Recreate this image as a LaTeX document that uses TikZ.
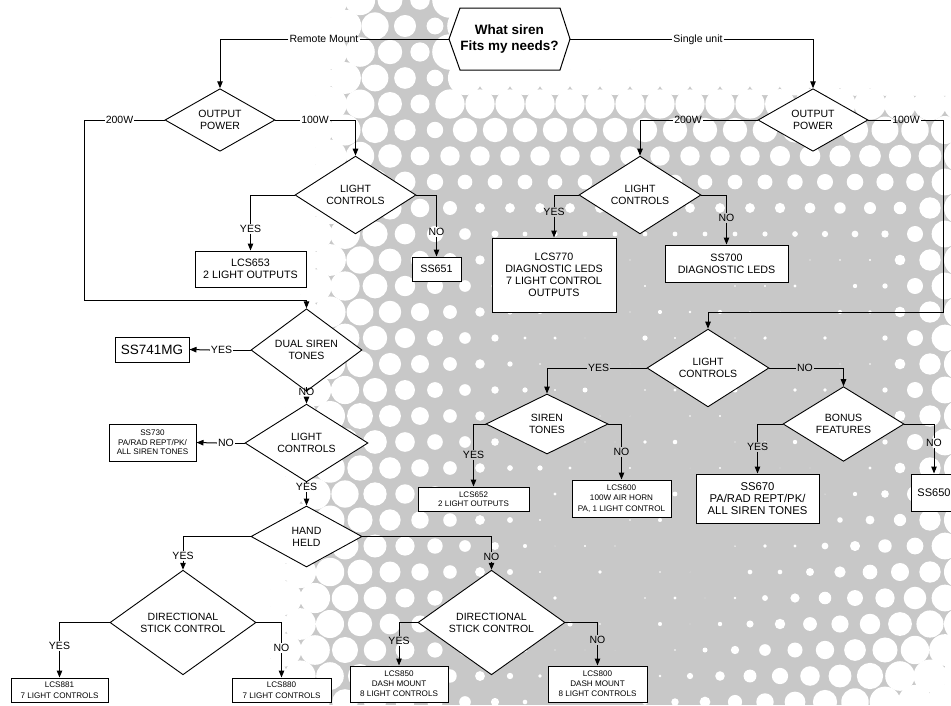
\documentclass[tikz,border=0pt]{standalone}
\usepackage{fontspec}
\setmainfont{Liberation Sans}
\usetikzlibrary{shapes.geometric,arrows.meta}
\definecolor{bggray}{RGB}{200,200,200}
\begin{document}
\begin{tikzpicture}[x=1pt,y=-1pt,
  conn/.style={line width=1pt},
  arr/.style={line width=1pt,-{Triangle[length=7pt,width=5.5pt]}},
  dia/.style={shape=diamond,draw,fill=white,line width=0.9pt,inner sep=0pt,align=center,
    font=\fontsize{10.5}{12}\selectfont},
  boxn/.style={draw,fill=white,line width=1pt,inner sep=0pt,align=center},
  fA/.style={font=\fontsize{10.7}{12.2}\selectfont},
  fS/.style={font=\fontsize{8.1}{10}\selectfont},
  fM/.style={font=\fontsize{11.3}{12.3}\selectfont},
  lbl/.style={inner sep=1pt,font=\fontsize{10.5}{12}\selectfont,text height=7.5pt,text depth=0pt}]
\useasboundingbox (0,0) rectangle (951,705);
% ---------- halftone background ----------
\pgfmathsetseed{7}
\begin{scope}
\clip (0,0) rectangle (951,705);
\fill[bggray] (0,0) rectangle (951,705);
\foreach \j in {-1,...,28}{
  \foreach \i in {-1,...,32}{
    \pgfmathsetmacro\px{(\i)*30+mod((\j)+2,2)*15}
    \pgfmathsetmacro\py{(\j)*26}
    \pgfmathsetmacro\rn{rnd}
    \pgfmathsetmacro\wv{max(1-((\px)-330+0.1*(\py))/(200+0.15*(\py)), ((\px)>440)*(1-((\py)-70-0.1*max(0,(\px)-750))/190), ((\px)+(\py)-1310)/320, ((\px)-870)/100, 0.16*(\rn)*(\rn))}
    \pgfmathsetmacro\rr{17.8*min(1,\wv)}
    \fill[white] (\px,\py) circle[radius=\rr];
  }
}
\end{scope}
% ---------- start ----------
\draw[fill=white,line width=1pt] (449,39) -- (460,8) -- (560,8) -- (570,39) -- (560,70) -- (460,70) -- cycle;
\node[minimum width=121pt,minimum height=62pt,inner sep=0pt,align=center,
  font=\fontsize{13.5}{15.3}\selectfont\bfseries] (q) at (509.5,39) {What siren\\Fits my needs?};
% ---------- left branch ----------
\node[dia,minimum width=110pt,minimum height=60pt] (op1) at (220,120) {OUTPUT\\POWER};
\node[dia,minimum width=121pt,minimum height=60pt] (lc1) at (355.5,195) {LIGHT\\CONTROLS};
\node[boxn,fA,minimum width=111pt,minimum height=36pt] (b653) at (250.5,269) {LCS653\\2 LIGHT OUTPUTS};
\node[boxn,fA,minimum width=49pt,minimum height=24pt] (b651) at (436.5,269) {SS651};
\node[dia,minimum width=111pt,minimum height=60pt] (dst) at (306.5,350) {DUAL SIREN\\TONES};
\node[boxn,minimum width=74pt,minimum height=25pt,font=\fontsize{13.5}{15}\selectfont] (b741) at (152,349.5) {SS741MG};
\node[dia,minimum width=123pt,minimum height=60pt] (lc2) at (306.5,443) {LIGHT\\CONTROLS};
\node[boxn,minimum width=87pt,minimum height=37pt,font=\fontsize{8.1}{9.7}\selectfont] (b730) at (152.5,442.5) {SS730\\PA/RAD REPT/PK/\\ALL SIREN TONES};
\node[dia,minimum width=111pt,minimum height=61pt] (hh) at (306.5,536.5) {HAND\\HELD};
\node[dia,minimum width=146pt,minimum height=61pt] (dsc1) at (183,622.5) {DIRECTIONAL\\STICK CONTROL};
\node[dia,minimum width=147pt,minimum height=61pt] (dsc2) at (491.5,622.5) {DIRECTIONAL\\STICK CONTROL};
\node[boxn,minimum width=97pt,minimum height=24pt,font=\fontsize{8.1}{10.5}\selectfont] (b881) at (59.5,690) {LCS881\\7 LIGHT CONTROLS};
\node[boxn,minimum width=99pt,minimum height=24pt,font=\fontsize{8.1}{10.5}\selectfont] (b880) at (281.5,690) {LCS880\\7 LIGHT CONTROLS};
\node[boxn,fS,minimum width=98pt,minimum height=36pt] (b850) at (399,684) {LCS850\\DASH MOUNT\\8 LIGHT CONTROLS};
\node[boxn,fS,minimum width=99pt,minimum height=36pt] (b800) at (597.5,684) {LCS800\\DASH MOUNT\\8 LIGHT CONTROLS};
% ---------- right branch ----------
\node[dia,minimum width=110pt,minimum height=60pt] (op2) at (813,120) {OUTPUT\\POWER};
\node[dia,minimum width=122pt,minimum height=60pt] (lc3) at (640,195) {LIGHT\\CONTROLS};
\node[boxn,fA,minimum width=124pt,minimum height=74pt] (b770) at (554,275) {LCS770\\DIAGNOSTIC LEDS\\7 LIGHT CONTROL\\OUTPUTS};
\node[boxn,fA,minimum width=123pt,minimum height=37pt] (b700) at (726.5,263.5) {SS700\\DIAGNOSTIC LEDS};
\node[dia,minimum width=122pt,minimum height=60pt] (lc4) at (708,368) {LIGHT\\CONTROLS};
\node[dia,minimum width=122pt,minimum height=60pt] (st) at (547,424) {SIREN\\TONES};
\node[dia,minimum width=121pt,minimum height=60pt] (bf) at (843.5,424) {BONUS\\FEATURES};
\node[boxn,minimum width=111pt,minimum height=24pt,font=\fontsize{8}{9.5}\selectfont] (b652) at (473.5,499) {LCS652\\2 LIGHT OUTPUTS};
\node[boxn,minimum width=99pt,minimum height=37pt,font=\fontsize{8.1}{10.8}\selectfont] (b600) at (621.5,498.5) {LCS600\\100W AIR HORN\\PA, 1 LIGHT CONTROL};
\node[boxn,fM,minimum width=123pt,minimum height=49pt] (b670) at (757.5,498.5) {SS670\\PA/RAD REPT/PK/\\ALL SIREN TONES};
\node[boxn,minimum width=46pt,minimum height=37pt,font=\fontsize{11}{12}\selectfont] (b650) at (934,492.5) {SS650};
% ---------- labels ----------
\node[lbl] (lRM) at (324,39) {Remote Mount};
\node[lbl] (lSU) at (698,39) {Single unit};
\node[lbl] (l200a) at (119.5,120) {200W};
\node[lbl] (l100a) at (315,120) {100W};
\node[lbl] (y1) at (250.5,229) {YES};
\node[lbl] (n1) at (436.5,232) {NO};
\node[lbl] (y2) at (221.5,350) {YES};
\node[lbl] (n2) at (306.5,392) {NO};
\node[lbl] (n3) at (226,443) {NO};
\node[lbl] (y3) at (306.5,487) {YES};
\node[lbl] (y4) at (183,556) {YES};
\node[lbl] (n4) at (491.5,557) {NO};
\node[lbl] (y5) at (59.5,646) {YES};
\node[lbl] (n5) at (281.5,648) {NO};
\node[lbl] (y6) at (399,641) {YES};
\node[lbl] (n6) at (597.5,640) {NO};
\node[lbl] (l200b) at (688,120) {200W};
\node[lbl] (l100b) at (906,120) {100W};
\node[lbl] (y7) at (554,212) {YES};
\node[lbl] (n7) at (726.5,218) {NO};
\node[lbl] (y8) at (598.5,368) {YES};
\node[lbl] (n8) at (805,368) {NO};
\node[lbl] (y9) at (473.5,455) {YES};
\node[lbl] (n9) at (621.5,452) {NO};
\node[lbl] (y10) at (757.5,447) {YES};
\node[lbl] (n10) at (934,443) {NO};
\coordinate (c1) at (84,300);
\coordinate (c2) at (943,312);
% ---------- connectors ----------
\draw[conn] (q.west) -- (lRM.east);
\draw[arr] (lRM.west) -| (op1.north);
\draw[conn] (q.east) -- (lSU.west);
\draw[arr] (lSU.east) -| (op2.north);
\draw[conn] (op1.west) -- (l200a.east);
\draw[arr] (l200a.west) -| (c1) -| (dst.north);
\draw[conn] (op1.east) -- (l100a.west);
\draw[arr] (l100a.east) -| (lc1.north);
\draw[conn] (lc1.west) -| (y1.north);
\draw[arr] (y1.south) -- (b653.north);
\draw[conn] (lc1.east) -| (n1.north);
\draw[arr] (n1.south) -- (b651.north);
\draw[conn] (dst.west) -- (y2.east);
\draw[arr] (y2.west) -- (b741.east);
\draw[conn] (dst.south) -- (n2.north);
\draw[arr] (n2.south) -- (lc2.north);
\draw[conn] (lc2.west) -- (n3.east);
\draw[arr] (n3.west) -- (b730.east);
\draw[conn] (lc2.south) -- (y3.north);
\draw[arr] (y3.south) -- (hh.north);
\draw[conn] (hh.west) -| (y4.north);
\draw[arr] (y4.south) -- (dsc1.north);
\draw[conn] (hh.east) -| (n4.north);
\draw[arr] (n4.south) -- (dsc2.north);
\draw[conn] (dsc1.west) -| (y5.north);
\draw[arr] (y5.south) -- (b881.north);
\draw[conn] (dsc1.east) -| (n5.north);
\draw[arr] (n5.south) -- (b880.north);
\draw[conn] (dsc2.west) -| (y6.north);
\draw[arr] (y6.south) -- (b850.north);
\draw[conn] (dsc2.east) -| (n6.north);
\draw[arr] (n6.south) -- (b800.north);
\draw[conn] (op2.west) -- (l200b.east);
\draw[arr] (l200b.west) -| (lc3.north);
\draw[conn] (op2.east) -- (l100b.west);
\draw[arr] (l100b.east) -| (c2) -| (lc4.north);
\draw[conn] (lc3.west) -| (y7.north);
\draw[arr] (y7.south) -- (b770.north);
\draw[conn] (lc3.east) -| (n7.north);
\draw[arr] (n7.south) -- (b700.north);
\draw[conn] (lc4.west) -- (y8.east);
\draw[arr] (y8.west) -| (st.north);
\draw[conn] (lc4.east) -- (n8.west);
\draw[arr] (n8.east) -| (bf.north);
\draw[conn] (st.west) -| (y9.north);
\draw[arr] (y9.south) -- (b652.north);
\draw[conn] (st.east) -| (n9.north);
\draw[arr] (n9.south) -- (b600.north);
\draw[conn] (bf.west) -| (y10.north);
\draw[arr] (y10.south) -- (b670.north);
\draw[conn] (bf.east) -| (n10.north);
\draw[arr] (n10.south) -- (b650.north);
\end{tikzpicture}
\end{document}
